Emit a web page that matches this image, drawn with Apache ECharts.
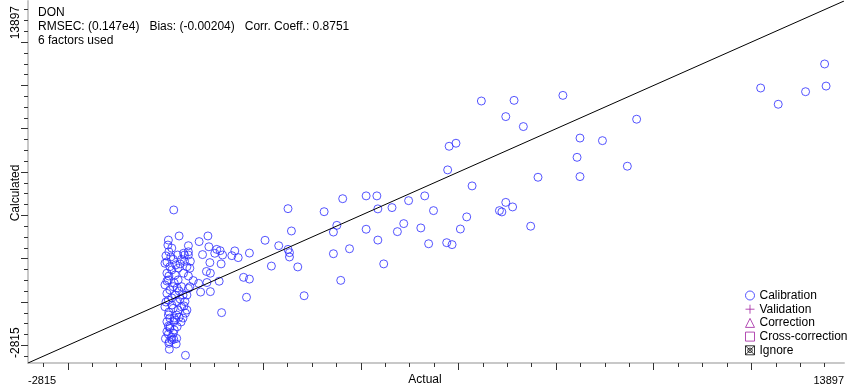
<!DOCTYPE html>
<html>
<head>
<meta charset="utf-8">
<script src="https://cdn.jsdelivr.net/npm/echarts@6/dist/echarts.min.js"></script>
<style>
  html, body { margin: 0; padding: 0; background: #ffffff; }
  #chart { width: 852px; height: 388px; }
</style>
</head>
<body>
<div id="chart"></div>
<script>
// Axis extent (both axes share the same range) and the end labels
const axisRange = [-2815, 13897];
const axisEndLabels = ['-2815', '13897'];

// Calibration samples: reference (Actual) vs predicted (Calculated) DON values
const actual = [
  13500, 12190, 12550, 13110, 13530,
  8140, 9650, 8490, 8950, 8430, 9460, 8490, 7630, 6470, 7140, 6970, 7330, 5810, 5950, 5780, 6280, 5310,
  3630, 4110, 4330, 2510, 3250, 4350, 4640, 4980, 5490, 6970, 6840, 6890, 7110, 6170, 7480, 6040, 5230, 4880,
  4750, 4110, 4350, 5390, 5760, 5870, 3510, 3440, 2580, 2040, 2320, 2510, 2540, 2540, 3440, 3770, 4470, 2170,
  2710, 3590, 2840,
  1720, 1600, 1720, 1660, 1150, 410, 170, 280, 870, 690, 470, 890, 1050, 1120, 1010, 1170, 1360, 1420, 1490,
  760, 910, 1140, 840, 920, 1100, 850, 720, 920, 570, 680, 470, 370, 510, 390, 500, 470, 500, 440, 360,
  380, 410, 280, 170, 240, 90, 120, 0, 170, 80, 80,
  60, 50, 70, 250, 390, 470, 160, 330, -10, 90, 210, 440, 30, 200, 370, 60, 260, -10, 160, 330,
  470, 30, 200, 60, 230, 400, -10, 160, 330, 440, 60, 230, 30, 200, 90, 30, 160, 130, 230, 70,
  110, 30, 130, 260, 70, 180, 90, 280, 130, 300, 10, 130, 260, 70, 180, 320, 60, 180, 60, 220,
  130, 10, 300, 30, 240, 90, 360
];
const calculated = [
  10990, 9880, 9130, 9710, 9970,
  9540, 8440, 7570, 7450, 6680, 6270, 5790, 5760, 9280, 9310, 8560, 8100, 7190, 7330, 6100, 5360, 4900,
  4770, 4900, 4900, 4310, 4170, 4300, 4360, 4680, 4220, 4600, 4220, 4160, 4390, 3930, 3500, 3370, 3420, 3620,
  3250, 3360, 2860, 2690, 2740, 2650, 3540, 3230, 3280, 2850, 2600, 2430, 2280, 2080, 2230, 2460, 1760, 1660,
  1620, 1000, 290,
  2260, 1140, 1060, 220, -490, -2460, 4250, 3050, 3050, 2790, 2600, 2550, 2430, 2370, 2250, 2170, 2140, 2360, 2050,
  2190, 1820, 1760, 1410, 1330, 960, 900, 460, 480, 990, 860, 2170, 2250, 1880, 1880, 1560, 1200, 710, 320, 320,
  -180, -510, -700, -910, -1140, -1210, -1630, -1690, -1720, -1830, -2180,
  2860, 2630, 2320, 2170, 2170, 2320, 1970, 1970, 1790, 1630, 1710, 1630, 1330, 1250, 1330, 1020, 1020, 790, 710, 710,
  630, 400, 320, 90, 20, 20, -220, -290, -220, -370, -600, -600, -910, -830, -1140, -1370, -1440, -1750, -1680, -1910,
  2080, 1850, 1480, 1570, 1200, 880, 560, 510, 190, 140, 0, -140, -370, -460, -740, -920, -1110, -1290, -1480, -1940,
  2490, 2130, 1760, 970, 650, -740, -740
];

const infoLines = [
  'DON',
  'RMSEC: (0.147e4)   Bias: (-0.00204)   Corr. Coeff.: 0.8751',
  '6 factors used'
];
const legendNames = ['Calibration', 'Validation', 'Correction', 'Cross-correction', 'Ignore'];

const FONT = 'Arial, "Liberation Sans", sans-serif';
const BLUE = '#2a2aff';
const PURPLE = '#a020a0';
const AXIS_GREY = '#c8c8c8';
const TICK = '#333333';

// Tick marks every 500 units, longer ones every 2000 units
const minorTicks = [];
const majorTicks = [];
for (let v = Math.ceil(axisRange[0] / 500) * 500; v <= axisRange[1]; v += 500) {
  minorTicks.push(v);
  if (v % 2000 === 0) majorTicks.push(v);
}

const endLabel = (v) => {
  const i = axisRange.indexOf(v);
  return i >= 0 ? axisEndLabels[i] : '';
};

function axisPair(isX, title) {
  const main = {
    type: 'value',
    min: axisRange[0],
    max: axisRange[1],
    position: isX ? 'bottom' : 'left',
    name: title,
    nameLocation: 'middle',
    nameGap: isX ? 11 : 6,
    nameMoveOverlap: false,
    nameTextStyle: {
      fontSize: 12,
      color: '#000',
      fontFamily: FONT,
      padding: [0, 22, 0, 0]
    },
    axisLine: { show: true, onZero: false, lineStyle: { color: AXIS_GREY, width: 2 } },
    axisTick: { show: true, customValues: majorTicks, length: 7, lineStyle: { color: TICK, width: 1 } },
    axisLabel: {
      show: true,
      customValues: axisRange.slice(),
      formatter: endLabel,
      fontSize: isX ? 11 : 12,
      color: '#000',
      fontFamily: FONT,
      margin: isX ? 12 : 6,
      rotate: isX ? 0 : 90,
      padding: isX ? 0 : [0, 5, 0, 5],
      alignMinLabel: 'left',
      alignMaxLabel: 'right'
    },
    splitLine: { show: false }
  };
  const minor = {
    type: 'value',
    min: axisRange[0],
    max: axisRange[1],
    position: isX ? 'bottom' : 'left',
    axisLine: { show: false, onZero: false },
    axisTick: { show: true, customValues: minorTicks, length: 4, lineStyle: { color: TICK, width: 1 } },
    axisLabel: { show: false },
    splitLine: { show: false }
  };
  return [main, minor];
}

const points = actual.map((a, i) => [a, calculated[i]]);

const hollow = (c) => ({ color: 'rgba(0,0,0,0)', borderColor: c, borderWidth: 1 });

const legendIcons = [
  'circle',
  'path://M4,0L4,8M0,4L8,4',
  'path://M4,0L8,8L0,8Z',
  'rect',
  'path://M0,0L8,0L8,8L0,8ZM0,0L8,8M8,0L0,8M6,4A2,2,0,1,1,2,4A2,2,0,1,1,6,4'
];
const legendColors = [BLUE, PURPLE, PURPLE, PURPLE, '#000000'];

const chart = echarts.init(document.getElementById('chart'), null, { renderer: 'canvas' });
chart.setOption({
  animation: false,
  backgroundColor: '#ffffff',
  textStyle: { fontFamily: FONT },
  title: {
    text: infoLines.join('\n'),
    left: 33,
    top: 1,
    textStyle: { fontSize: 12, fontWeight: 'normal', color: '#000', lineHeight: 14, fontFamily: FONT }
  },
  grid: { left: 28, right: 8, top: 1, bottom: 25, containLabel: false, outerBoundsMode: 'none' },
  xAxis: axisPair(true, 'Actual'),
  yAxis: axisPair(false, 'Calculated'),
  legend: {
    orient: 'vertical',
    left: 740,
    top: 284,
    padding: 5,
    itemWidth: 9,
    itemHeight: 9,
    itemGap: 0.7,
    selectedMode: false,
    textStyle: { fontSize: 12, color: '#000', fontFamily: FONT, lineHeight: 13 },
    data: legendNames.map((n, i) => ({
      name: n,
      icon: legendIcons[i],
      itemStyle: hollow(legendColors[i])
    }))
  },
  series: [
    {
      name: legendNames[0],
      type: 'scatter',
      xAxisIndex: 0,
      yAxisIndex: 0,
      symbol: 'circle',
      symbolSize: 8,
      itemStyle: hollow(BLUE),
      data: points,
      z: 3
    },
    ...legendNames.slice(1).map((n, i) => ({
      name: n,
      type: 'scatter',
      xAxisIndex: 0,
      yAxisIndex: 0,
      symbol: legendIcons[i + 1],
      itemStyle: hollow(legendColors[i + 1]),
      data: []
    })),
    {
      name: 'ideal',
      type: 'line',
      xAxisIndex: 0,
      yAxisIndex: 0,
      showSymbol: false,
      silent: true,
      lineStyle: { color: '#000', width: 1 },
      data: [[axisRange[0], axisRange[0]], [axisRange[1], axisRange[1]]],
      z: 4
    }
  ]
});
</script>
</body>
</html>
